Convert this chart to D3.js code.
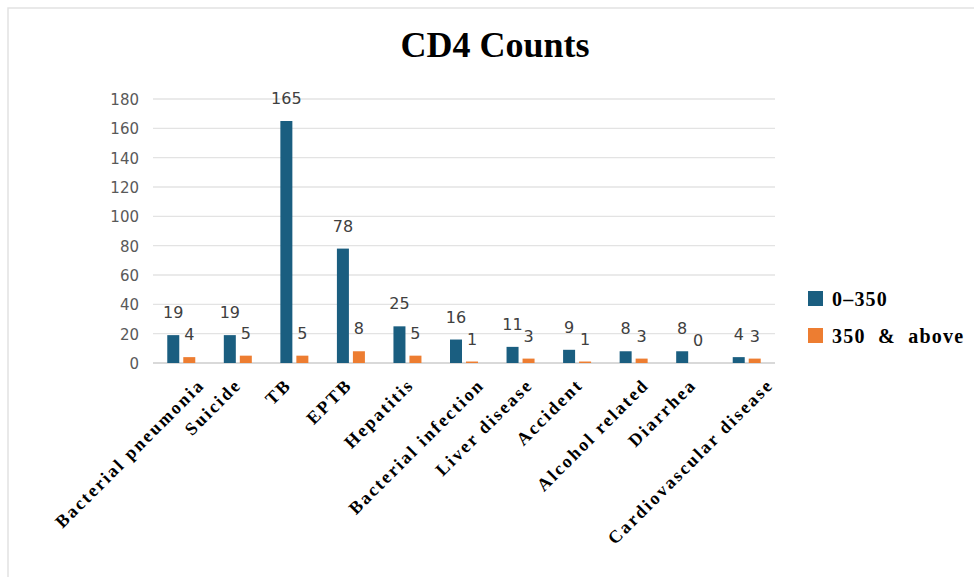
<!DOCTYPE html>
<html>
<head>
<meta charset="utf-8">
<script src="https://cdn.jsdelivr.net/npm/d3@7"></script>
<style>
  body { margin: 0; background: #fff; }
</style>
</head>
<body>
<svg id="chart" width="974" height="577"></svg>
<script>
var categories = ["Bacterial pneumonia", "Suicide", "TB", "EPTB", "Hepatitis",
  "Bacterial infection", "Liver disease", "Accident", "Alcohol related",
  "Diarrhea", "Cardiovascular disease"];
var low = [19, 19, 165, 78, 25, 16, 11, 9, 8, 8, 4];
var high = [4, 5, 5, 8, 5, 1, 3, 1, 3, 0, 3];
var seriesNames = ["0\u2013350", "350  &  above"];
var yTicks = [0, 20, 40, 60, 80, 100, 120, 140, 160, 180];

var colors = ["#1a5e80", "#ed7d31"];

var svg = d3.select("#chart");

// frame
svg.append("path")
  .attr("d", "M8,577 L8,8 L974,8")
  .attr("fill", "none")
  .attr("stroke", "#e2e2e2")
  .attr("stroke-width", 1.5);

var x = d3.scaleBand().domain(categories).range([153, 775]);
var y = d3.scaleLinear().domain([0, 180]).range([363, 99]);

// gridlines
svg.append("g")
  .selectAll("line")
  .data(yTicks)
  .enter()
  .append("line")
  .attr("x1", 153)
  .attr("x2", 775)
  .attr("y1", function (d) { return y(d); })
  .attr("y2", function (d) { return y(d); })
  .attr("stroke", function (d) { return d === 0 ? "#d9d9d9" : "#e3e3e3"; })
  .attr("stroke-width", function (d) { return d === 0 ? 2 : 1.3; });

svg.append("g")
  .selectAll("text")
  .data(yTicks)
  .enter()
  .append("text")
  .attr("x", 139)
  .attr("y", function (d) { return y(d) + 6; })
  .attr("text-anchor", "end")
  .attr("font-family", "DejaVu Sans, sans-serif")
  .attr("font-size", 15)
  .attr("fill", "#595959")
  .text(function (d) { return d; });

var barW = 12;
var series = [low, high];

series.forEach(function (vals, s) {
  var off = s === 0 ? -14 : 2;
  svg.append("g")
    .selectAll("rect")
    .data(vals)
    .enter()
    .append("rect")
    .attr("x", function (d, i) { return x(categories[i]) + x.bandwidth() / 2 + off; })
    .attr("y", function (d) { return y(d); })
    .attr("width", barW)
    .attr("height", function (d) { return y(0) - y(d); })
    .attr("fill", colors[s]);

  svg.append("g")
    .selectAll("text")
    .data(vals)
    .enter()
    .append("text")
    .attr("x", function (d, i) { return x(categories[i]) + x.bandwidth() / 2 + off + barW / 2; })
    .attr("y", function (d) { return y(d) - 17; })
    .attr("text-anchor", "middle")
    .attr("font-family", "DejaVu Sans, sans-serif")
    .attr("font-size", 16)
    .attr("fill", "#404040")
    .text(function (d) { return d; });
});

// category labels, longer ones shift right a bit like in excel
svg.append("g")
  .selectAll("text")
  .data(categories)
  .enter()
  .append("text")
  .attr("text-anchor", "end")
  .attr("font-family", "Liberation Serif, serif")
  .attr("font-weight", "bold")
  .attr("font-size", 18)
  .attr("letter-spacing", 2.2)
  .attr("fill", "#000")
  .text(function (d) { return d; })
  .attr("transform", function (d) {
    var len = this.getComputedTextLength();
    var cx = x(d) + x.bandwidth() / 2 + 0.15 * len - 6;
    return "translate(" + cx + ",386) rotate(-45)";
  });

// title
svg.append("text")
  .attr("x", 495)
  .attr("y", 57)
  .attr("text-anchor", "middle")
  .attr("font-family", "Liberation Serif, serif")
  .attr("font-weight", "bold")
  .attr("font-size", 36)
  .text("CD4 Counts");

// legend
var legend = svg.append("g")
  .selectAll("g")
  .data(seriesNames)
  .enter()
  .append("g")
  .attr("transform", function (d, i) { return "translate(808," + (291 + i * 37) + ")"; });

legend.append("rect")
  .attr("width", 15)
  .attr("height", 15)
  .attr("fill", function (d, i) { return colors[i]; });

legend.append("text")
  .attr("x", 24)
  .attr("y", 15)
  .attr("font-family", "Liberation Serif, serif")
  .attr("font-weight", "bold")
  .attr("font-size", 20)
  .attr("letter-spacing", 1.2)
  .style("white-space", "pre")
  .text(function (d) { return d; });
</script>
</body>
</html>
